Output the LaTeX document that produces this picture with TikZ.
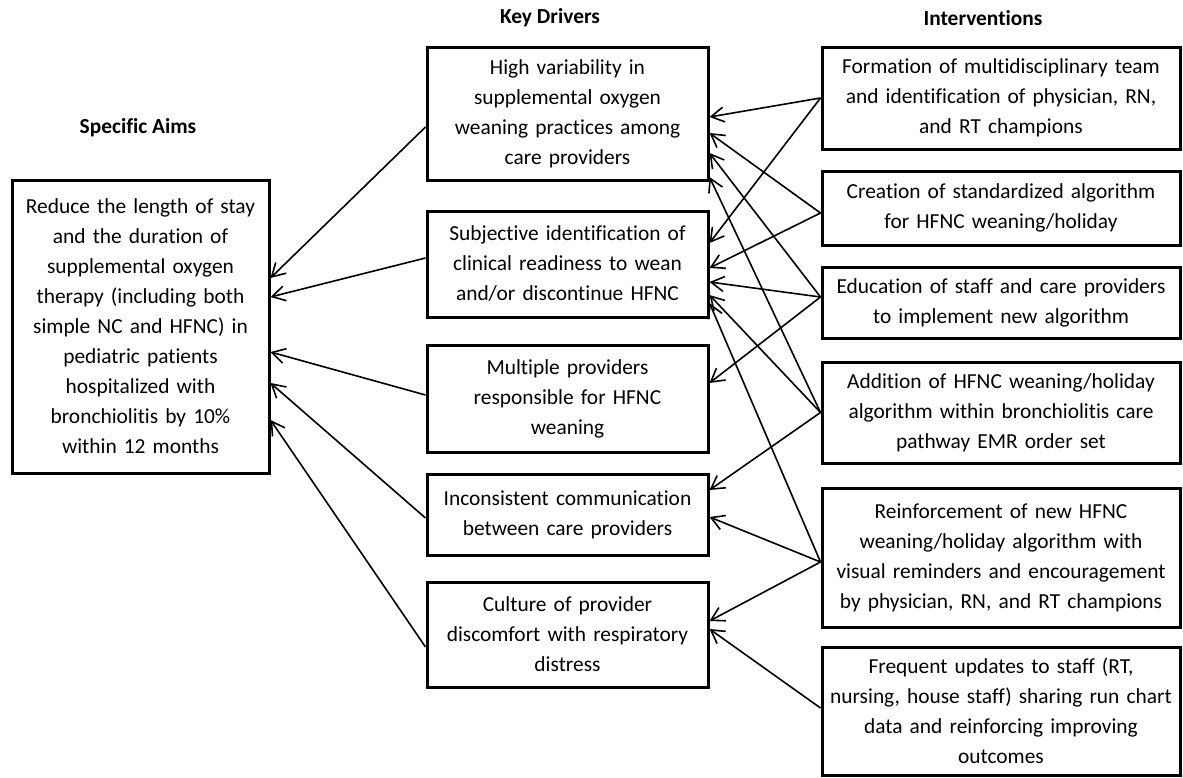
\documentclass[tikz,border=0pt]{standalone}
\usepackage{fontspec}
\setmainfont{Carlito}[Ligatures={NoCommon,NoContextual,NoRequired},Contextuals=NoAlternate]
\usetikzlibrary{arrows.meta,calc}
\tikzset{
  box/.style={draw, line width=1.5pt, align=center, inner sep=0pt, font=\fontsize{10.7}{15}\selectfont},
  title/.style={font=\bfseries\fontsize{10.7}{15}\selectfont, inner sep=0pt},
  arr/.style={line width=0.8pt, -{Straight Barb[length=6.5pt,width=7.5pt]}}
}
\newcommand\linkit[4]{\draw[arr] ($(#1)+(0,#2)$) -- ($(#3)+(0,#4)$);}
\begin{document}
\begin{tikzpicture}[x=0.5pt,y=-0.5pt]
\useasboundingbox (0,0) rectangle (1183,777);
% titles
\node[title] (tAims) at (138,128) {Specific Aims};
\node[title] (tKD) at (550,18) {Key Drivers};
\node[title] (tInt) at (983,18) {Interventions};
% aim
\node[box, minimum width=128.5pt, minimum height=146.5pt, text width=126pt] (aim) at (140.5,326.5)
 {Reduce the length of stay\\and the duration of\\supplemental oxygen\\therapy (including both\\simple NC and HFNC) in\\pediatric patients\\hospitalized with\\bronchiolitis by 10\%\\within 12 months};
% key drivers
\node[box, minimum width=140.5pt, minimum height=66.5pt, text width=138pt] (kd1) at (567.5,113.5)
 {High variability in\\supplemental oxygen\\weaning practices among\\care providers};
\node[box, minimum width=140.5pt, minimum height=53pt, text width=138pt] (kd2) at (567.5,264)
 {Subjective identification of\\clinical readiness to wean\\and/or discontinue HFNC};
\node[box, minimum width=140.5pt, minimum height=53.5pt, text width=138pt] (kd3) at (567.5,398.5)
 {Multiple providers\\responsible for HFNC\\weaning};
\node[box, minimum width=140.5pt, minimum height=40.5pt, text width=138pt] (kd4) at (567.5,514.5)
 {Inconsistent communication\\between care providers};
\node[box, minimum width=140.5pt, minimum height=52.5pt, text width=138pt] (kd5) at (567.5,634.5)
 {Culture of provider\\discomfort with respiratory\\distress};
% interventions
\node[box, minimum width=179pt, minimum height=51pt, text width=176pt] (i1) at (1001,98)
 {Formation of multidisciplinary team\\and identification of physician, RN,\\and RT champions};
\node[box, minimum width=179pt, minimum height=37pt, text width=176pt] (i2) at (1001,208)
 {Creation of standardized algorithm\\for HFNC weaning/holiday};
\node[box, minimum width=179pt, minimum height=35.5pt, text width=176pt] (i3) at (1001,302.5)
 {Education of staff and care providers\\to implement new algorithm};
\node[box, minimum width=179pt, minimum height=50.5pt, text width=176pt] (i4) at (1001,412.5)
 {Addition of HFNC weaning/holiday\\algorithm within bronchiolitis care\\pathway EMR order set};
\node[box, minimum width=179pt, minimum height=69.5pt, text width=176pt] (i5) at (1001,557.5)
 {Reinforcement of new HFNC\\weaning/holiday algorithm with\\visual reminders and encouragement\\by physician, RN, and RT champions};
\node[box, minimum width=179pt, minimum height=64pt, text width=176pt] (i6) at (1001,711)
 {Frequent updates to staff (RT,\\nursing, house staff) sharing run chart\\data and reinforcing improving\\outcomes};
% interventions -> key drivers
\linkit{i1.west}{0}{kd1.east}{3.5}
\linkit{i1.west}{0}{kd2.east}{-21}
\linkit{i2.west}{5}{kd1.east}{19.5}
\linkit{i2.west}{5}{kd2.east}{4}
\linkit{i3.west}{-5.5}{kd1.east}{39.5}
\linkit{i3.west}{-5.5}{kd2.east}{18}
\linkit{i3.west}{-5.5}{kd3.east}{-15.5}
\linkit{i4.west}{0}{kd1.east}{63.5}
\linkit{i4.west}{0}{kd2.east}{31}
\linkit{i4.west}{0}{kd4.east}{-24.5}
\linkit{i5.west}{4.5}{kd2.east}{39}
\linkit{i5.west}{4.5}{kd4.east}{2.5}
\linkit{i5.west}{4.5}{kd5.east}{-13.5}
\linkit{i6.west}{-3}{kd5.east}{-5.5}
% key drivers -> aim
\linkit{kd1.west}{13.5}{aim.east}{-48.5}
\linkit{kd2.west}{-6}{aim.east}{-29.5}
\linkit{kd3.west}{-3.5}{aim.east}{25.5}
\linkit{kd4.west}{3.5}{aim.east}{56.5}
\linkit{kd5.west}{12.5}{aim.east}{93.5}
\end{tikzpicture}
\end{document}
